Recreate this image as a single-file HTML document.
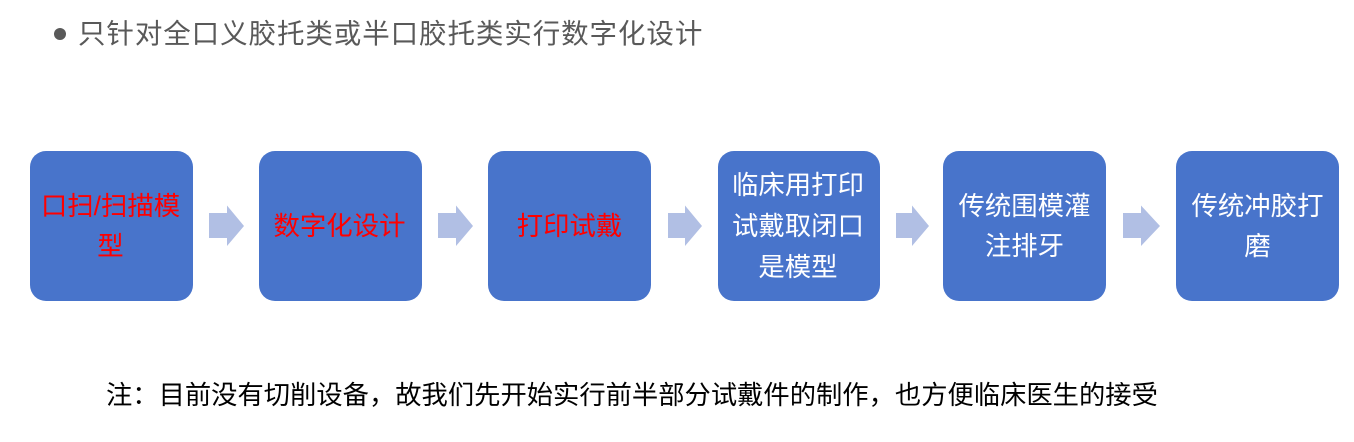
<!DOCTYPE html>
<html lang="zh"><head><meta charset="utf-8">
<style>
html,body{margin:0;padding:0;background:#fff}
#p{position:relative;width:1354px;height:442px;overflow:hidden;background:#fff;font-family:"Liberation Sans","Noto Sans CJK SC",sans-serif}
.b{position:absolute;top:151px;height:150px;background:#4874cb;border-radius:16px}
.l{position:absolute;left:-21px;right:-19px;text-align:center;font-size:26.4px;line-height:40px;height:40px;white-space:nowrap;color:#fff}
.n{left:-20px;right:-20px}
.r{color:#f00}
.t{position:absolute;white-space:nowrap}
svg{position:absolute;left:0;top:0}
</style></head><body><div id="p">
<div style="position:absolute;left:54px;top:28px;width:12px;height:12px;border-radius:50%;background:#595959"></div>
<div class="t" style="left:78px;top:14px;font-size:27.5px;letter-spacing:0.92px;line-height:40px;color:#595959">只针对全口义胶托类或半口胶托类实行数字化设计</div>

<div class="b" style="left:30px;width:163px"><div class="l r" style="top:35px">口扫/扫描模</div><div class="l r" style="top:75px">型</div></div>
<div class="b" style="left:259px;width:163px"><div class="l r" style="top:55px">数字化设计</div></div>
<div class="b" style="left:488px;width:163px"><div class="l n r" style="top:55px">打印试戴</div></div>
<div class="b" style="left:718px;width:162px"><div class="l" style="top:14px">临床用打印</div><div class="l" style="top:55px">试戴取闭口</div><div class="l" style="top:96px">是模型</div></div>
<div class="b" style="left:943px;width:163px"><div class="l n" style="top:35px">传统围模灌</div><div class="l n" style="top:75px">注排牙</div></div>
<div class="b" style="left:1176px;width:163px"><div class="l n" style="top:35px">传统冲胶打</div><div class="l n" style="top:75px">磨</div></div>

<svg width="1354" height="442" fill="#b1bfe4">
<polygon points="209,213 227,213 227,205.5 244,226 227,246 227,238 209,238"/>
<polygon points="438,213 456,213 456,205.5 473,226 456,246 456,238 438,238"/>
<polygon points="668,213 685,213 685,205.5 702,226 685,246 685,238 668,238"/>
<polygon points="896,213 912,213 912,205.5 929,226 912,246 912,238 896,238"/>
<polygon points="1123,213 1141,213 1141,205.5 1160,226 1141,246 1141,238 1123,238"/>
</svg>

<div class="t" style="left:106px;top:375px;font-size:26.3px;line-height:40px;color:#000">注：目前没有切削设备，故我们先开始实行前半部分试戴件的制作，也方便临床医生的接受</div>
</div></body></html>
